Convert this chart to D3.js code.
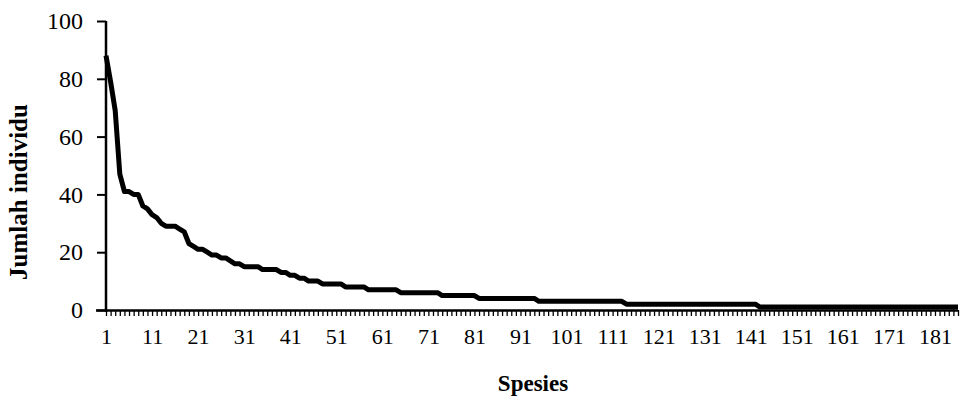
<!DOCTYPE html>
<html>
<head>
<meta charset="utf-8">
<script src="https://cdn.jsdelivr.net/npm/d3@7"></script>
<style>
  body { margin: 0; background: #fff; }
  svg text { font-family: "Liberation Serif", "Times New Roman", serif; fill: #000; }
</style>
</head>
<body>
<svg id="chart" width="961" height="398"></svg>
<script>
// Species rank (1 = most abundant)
const species = d3.range(1, 187);

// Number of individuals per species, ranked
const individuals = [
  88, 79, 69, 47, 41, 41, 40, 40, 36, 35,
  33, 32, 30, 29, 29, 29, 28, 27, 23, 22,
  21, 21, 20, 19, 19, 18, 18, 17, 16, 16,
  15, 15, 15, 15, 14, 14, 14, 14, 13, 13,
  12, 12, 11, 11, 10, 10, 10, 9, 9, 9,
  9, 9, 8, 8, 8, 8, 8, 7, 7, 7,
  7, 7, 7, 7, 6, 6, 6, 6, 6, 6,
  6, 6, 6, 5, 5, 5, 5, 5, 5, 5,
  5, 4, 4, 4, 4, 4, 4, 4, 4, 4,
  4, 4, 4, 4, 3, 3, 3, 3, 3, 3,
  3, 3, 3, 3, 3, 3, 3, 3, 3, 3,
  3, 3, 3, 2, 2, 2, 2, 2, 2, 2,
  2, 2, 2, 2, 2, 2, 2, 2, 2, 2,
  2, 2, 2, 2, 2, 2, 2, 2, 2, 2,
  2, 2, 1, 1, 1, 1, 1, 1, 1, 1,
  1, 1, 1, 1, 1, 1, 1, 1, 1, 1,
  1, 1, 1, 1, 1, 1, 1, 1, 1, 1,
  1, 1, 1, 1, 1, 1, 1, 1, 1, 1,
  1, 1, 1, 1, 1, 1
];

// Axis tick labels
const xTickLabels = [1, 11, 21, 31, 41, 51, 61, 71, 81, 91, 101, 111, 121, 131, 141, 151, 161, 171, 181];
const yTicks = [0, 20, 40, 60, 80, 100];

const svg = d3.select('#chart');
const data = species.map((s, i) => ({ rank: s, value: individuals[i] }));

// Scales: categories sit on the tick marks
const x = d3.scalePoint().domain(species).range([106, 958]).padding(0);
const y = d3.scaleLinear().domain([0, 100]).range([310, 21]);

// Line first so axes draw on top like the original
svg.append('path')
  .datum(data)
  .attr('fill', 'none')
  .attr('stroke', '#000')
  .attr('stroke-width', 5)
  .attr('stroke-linejoin', 'round')
  .attr('d', d3.line().x((d) => x(d.rank)).y((d) => y(d.value)));

// X axis: a tick at every species, a label every 10
const xAxis = svg.append('g')
  .attr('transform', `translate(0,${y(0)})`)
  .call(
    d3.axisBottom(x)
      .tickValues(species)
      .tickSize(6)
      .tickPadding(12)
      .tickFormat((d) => (xTickLabels.includes(d) ? d : ''))
  );
xAxis.select('.domain').attr('stroke', '#000').attr('stroke-width', 2.5)
  .attr('d', `M${x(1) - 10},0.5H958`);
xAxis.selectAll('.tick line').attr('stroke', '#000').attr('stroke-width', 1.3);
xAxis.selectAll('.tick text').style('font-size', '22px');

// Y axis
const yAxis = svg.append('g')
  .attr('transform', `translate(${x(1)},0)`)
  .call(d3.axisLeft(y).tickValues(yTicks).tickSize(9).tickPadding(14));
yAxis.select('.domain').attr('stroke', '#000').attr('stroke-width', 2.5)
  .attr('d', `M0,${y(100)}V${y(0) + 2}`);
yAxis.selectAll('.tick line').attr('stroke', '#000').attr('stroke-width', 2);
yAxis.selectAll('.tick text').style('font-size', '24px');

// Axis titles
svg.append('text')
  .attr('x', 533)
  .attr('y', 391)
  .attr('text-anchor', 'middle')
  .style('font-size', '23px')
  .style('font-weight', 'bold')
  .text('Spesies');

svg.append('text')
  .attr('transform', 'translate(27,192) rotate(-90)')
  .attr('text-anchor', 'middle')
  .style('font-size', '25px')
  .style('font-weight', 'bold')
  .text('Jumlah individu');
</script>
</body>
</html>
